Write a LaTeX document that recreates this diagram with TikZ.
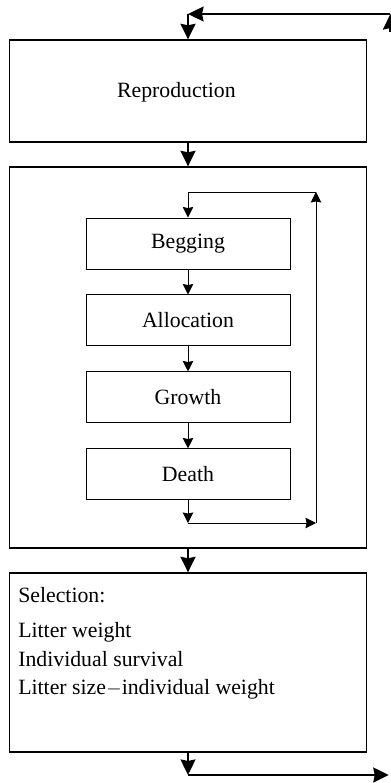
\documentclass[tikz,border=0pt]{standalone}
\usepackage{fontspec}
\setmainfont{Liberation Serif}
\usetikzlibrary{positioning,arrows.meta}
\begin{document}
\begin{tikzpicture}
		\tikzstyle{bigbox} = [rectangle,draw,line width=0.9pt,minimum width=8.925cm,inner sep=0pt,font=\fontsize{15.5}{18}\selectfont]
		\tikzstyle{stepbox} = [rectangle,draw,line width=0.7pt,minimum width=5.1cm,minimum height=1.275cm,font=\fontsize{15.5}{18}\selectfont]
		\tikzstyle{bigarrow} = [line width=1.8pt,-{Stealth[length=11pt,width=10.5pt,inset=1pt]}]
		\tikzstyle{smallarrow} = [line width=0.7pt,-{Stealth[length=7.5pt,width=7.5pt,inset=0.8pt]}]
		\useasboundingbox (0,0) rectangle (9.75,-19.575);

		\node[bigbox,minimum height=2.55cm] (repro) at (4.7,-2.275) {};
		\node[font=\fontsize{15.5}{18}\selectfont] (reprotext) at (4.41,-2.3) {Reproduction};
		\node[bigbox,minimum height=9.525cm] (life) at (4.7,-8.9375) {};
		\node[bigbox,minimum height=4.475cm] (select) at (4.7,-16.5625) {};

		\node[stepbox] (beg) at (4.7,-6.0875) {Begging};
		\node[stepbox,below=0.625cm of beg] (alloc) {Allocation};
		\node[stepbox,below=0.625cm of alloc] (growth) {Growth};
		\node[stepbox,below=0.625cm of growth] (death) {Death};

		\node[anchor=west,inner sep=0pt,font=\fontsize{15.5}{18}\selectfont] (seltitle) at (0.45,-14.875) {Selection:};
		\node[anchor=west,inner sep=0pt,align=left,font=\fontsize{15.5}{20.3}\selectfont] (crit) at (0.45,-16.525)
			{Litter weight\\Individual survival\\Litter size$-$individual weight};

		% outer loop
		\coordinate (topin) at (9.76,-0.8);
		\coordinate (topright) at (9.76,-0.35);
		\coordinate (topleft) at (4.7,-0.35);
		\draw[bigarrow] (topin) -- (topright);
		\draw[bigarrow] (topright) -- (topleft);
		\draw[bigarrow] (topleft) -- (repro.north);
		\draw[bigarrow] (repro.south) -- (life.north);
		\draw[bigarrow] (life.south) -- (select.north);
		\coordinate (botleft) at (4.7,-19.375);
		\coordinate (botright) at (9.72,-19.375);
		\draw[bigarrow] (select.south) -- (botleft);
		\draw[bigarrow] (botleft) -- (botright);

		% inner loop
		\draw[smallarrow] (beg) -- (alloc);
		\draw[smallarrow] (alloc) -- (growth);
		\draw[smallarrow] (growth) -- (death);
		\coordinate (loopbot) at (4.7,-13.075);
		\coordinate (loopright) at (7.9,-13.075);
		\coordinate (looptop) at (7.9,-4.8);
		\coordinate (loopleft) at (4.7,-4.8);
		\draw[smallarrow] (death.south) -- (loopbot);
		\draw[smallarrow] (loopbot) -- (loopright);
		\draw[smallarrow] (loopright) -- (looptop);
		\draw[smallarrow] (looptop) -- (loopleft) -- (beg.north);
	\end{tikzpicture}
\end{document}
